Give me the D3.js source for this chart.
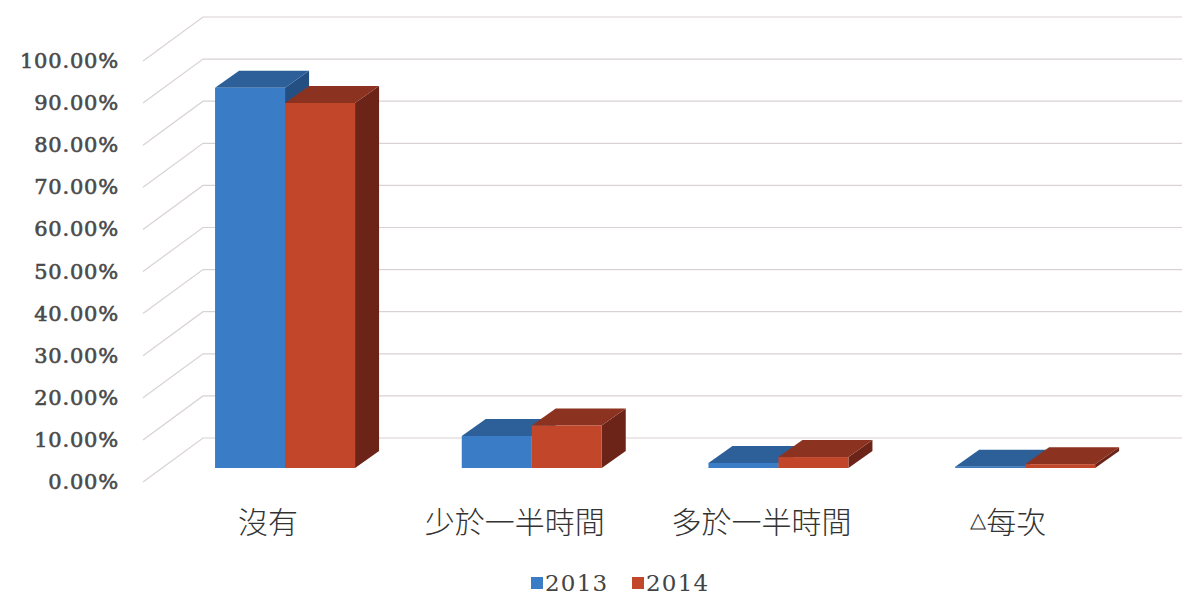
<!DOCTYPE html>
<html>
<head>
<meta charset="utf-8">
<script src="https://cdn.jsdelivr.net/npm/d3@7"></script>
<style>
  body { margin: 0; background: #fff; }
  svg { display: block; }
</style>
</head>
<body>
<div id="chart"></div>
<script>
// data
const categories = ["沒有", "少於一半時間", "多於一半時間", "△每次"];
const years = ["2013", "2014"];
const values2013 = [0.903, 0.076, 0.012, 0.003];
const values2014 = [0.867, 0.101, 0.026, 0.009];
const tickValues = [0, 0.1, 0.2, 0.3, 0.4, 0.5, 0.6, 0.7, 0.8, 0.9, 1.0];

const colors = {
    "2013": {front: "#3b7cc6", top: "#2d5f98", side: "#244f82"},
    "2014": {front: "#c1462a", top: "#8c3221", side: "#6c2418"}
};

const width = 1182, height = 597;

const svg = d3.select("#chart").append("svg")
    .attr("width", width)
    .attr("height", height);

// front plane of the wall / back plane offsets
const wallDx = 60, wallDy = 44;
const yWall = d3.scaleLinear().domain([0, 1]).range([482, 61]);

// bars sit a bit behind the front plane
const yBar = d3.scaleLinear().domain([0, 1]).range([468, 47]);
const barDx = 24, barDy = 17;

const x0 = d3.scaleBand()
    .domain(categories)
    .range([161.7, 1148.5])
    .paddingInner(0.4325)
    .paddingOuter(0.21625);

const x1 = d3.scaleBand()
    .domain(years)
    .range([0, x0.bandwidth()]);

// gridlines (diagonal + horizontal)
const grid = svg.append("g").attr("class", "grid");
grid.selectAll("path")
    .data(tickValues)
    .enter()
    .append("path")
    .attr("d", d => {
        const yf = yWall(d);
        return `M143,${yf} L${143 + wallDx},${yf - wallDy} L${width},${yf - wallDy}`;
    })
    .attr("fill", "none")
    .attr("stroke", "#d9d2d2")
    .attr("stroke-width", 1.2);

// y tick labels
svg.append("g")
    .selectAll("text")
    .data(tickValues)
    .enter()
    .append("text")
    .attr("x", 119)
    .attr("y", d => yWall(d))
    .attr("text-anchor", "end")
    .attr("dominant-baseline", "central")
    .style("font-family", "'DejaVu Serif', serif")
    .style("font-size", "21px")
    .style("letter-spacing", "0.8px")
    .style("fill", "#4a4a4a")
    .style("stroke", "#4a4a4a")
    .style("stroke-width", "0.6px")
    .text(d => d3.format(".2f")(d * 100) + "%");

// bars as 3D boxes
const rows = [];
categories.forEach((c, i) => {
    rows.push({cat: c, year: "2013", value: values2013[i]});
    rows.push({cat: c, year: "2014", value: values2014[i]});
});

const bars = svg.append("g").attr("class", "bars")
    .selectAll("g")
    .data(rows)
    .enter()
    .append("g");

bars.each(function(d) {
    const g = d3.select(this);
    const xl = x0(d.cat) + x1(d.year);
    const xr = xl + x1.bandwidth();
    const yb = yBar(0);
    const yt = yBar(d.value);
    const col = colors[d.year];

    // side face
    g.append("path")
        .attr("d", `M${xr},${yb} L${xr + barDx},${yb - barDy} L${xr + barDx},${yt - barDy} L${xr},${yt} Z`)
        .attr("fill", col.side);
    // top face
    g.append("path")
        .attr("d", `M${xl},${yt} L${xl + barDx},${yt - barDy} L${xr + barDx},${yt - barDy} L${xr},${yt} Z`)
        .attr("fill", col.top);
    // front face
    g.append("rect")
        .attr("x", xl)
        .attr("y", yt)
        .attr("width", xr - xl)
        .attr("height", yb - yt)
        .attr("fill", col.front);
});

// category labels (the small triangle is drawn at a smaller size)
const catLabels = svg.append("g")
    .selectAll("text")
    .data(categories)
    .enter()
    .append("text")
    .attr("x", d => x0(d) + x0.bandwidth() / 2 - 17)
    .attr("y", 520)
    .attr("text-anchor", "middle")
    .attr("dominant-baseline", "central")
    .style("font-family", "'Noto Sans CJK TC', sans-serif")
    .style("font-size", "30px")
    .style("font-weight", "300")
    .style("fill", "#333");

catLabels.each(function(d) {
    const t = d3.select(this);
    if (d.startsWith("△")) {
        t.append("tspan")
            .style("font-family", "'DejaVu Sans', sans-serif")
            .style("font-size", "21px")
            .text("△");
        t.append("tspan").text(d.slice(1));
    } else {
        t.text(d);
    }
});

// legend
const legend = svg.append("g").attr("class", "legend");
const legendX = [531, 632];
years.forEach((yr, i) => {
    legend.append("rect")
        .attr("x", legendX[i])
        .attr("y", 577)
        .attr("width", 12)
        .attr("height", 12)
        .attr("fill", colors[yr].front);
    legend.append("text")
        .attr("x", legendX[i] + 14)
        .attr("y", 583)
        .attr("dominant-baseline", "central")
        .style("font-family", "'DejaVu Serif', serif")
        .style("font-size", "23px")
        .style("letter-spacing", "1.2px")
        .style("fill", "#444")
        .text(yr);
});
</script>
</body>
</html>
